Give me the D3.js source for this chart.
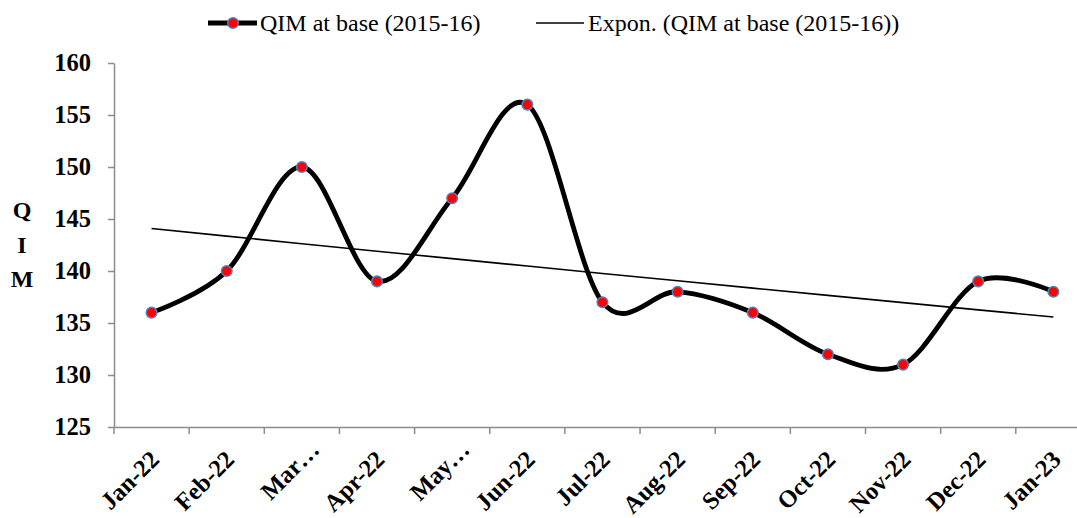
<!DOCTYPE html>
<html>
<head>
<meta charset="utf-8">
<script src="https://cdn.jsdelivr.net/npm/d3@7/dist/d3.min.js"></script>
<style>
  html, body { margin: 0; padding: 0; background: #fff; }
  svg { display: block; }
  text { font-family: "Liberation Serif", "Times New Roman", serif; fill: #000; }
</style>
</head>
<body>
<svg id="chart" width="1077" height="518"></svg>
<script>
// ---- data ----
const categories = ["Jan-22","Feb-22","Mar-22","Apr-22","May-22","Jun-22","Jul-22","Aug-22","Sep-22","Oct-22","Nov-22","Dec-22","Jan-23"];
const categoryLabels = ["Jan-22","Feb-22","Mar\u2026","Apr-22","May\u2026","Jun-22","Jul-22","Aug-22","Sep-22","Oct-22","Nov-22","Dec-22","Jan-23"];
const qimValues = [136, 140, 150, 139, 147, 156, 137, 138, 136, 132, 131, 139, 138];
const yTicks = [125, 130, 135, 140, 145, 150, 155, 160];
const seriesName = "QIM at base (2015-16)";
const trendName = "Expon. (QIM at base (2015-16))";
const yTitle = ["Q", "I", "M"];

// ---- layout ----
const svg = d3.select("#chart");
const plotLeft = 114, plotTop = 63, plotBottom = 427;
const step = 75.15;
const plotRight = plotLeft + step * categories.length;

const x = d3.scaleBand().domain(categories).range([plotLeft, plotRight]).padding(0);
const xc = c => x(c) + x.bandwidth() / 2;
const y = d3.scaleLinear().domain([125, 160]).range([plotBottom, plotTop]);

const axisColor = "#8c8c8c";
const serif = "'Liberation Serif', 'Times New Roman', serif";

// Y axis
const yAxis = svg.append("g")
  .attr("transform", `translate(${plotLeft},0)`)
  .call(d3.axisLeft(y).tickValues(yTicks).tickSize(6).tickSizeOuter(0).tickPadding(17));
yAxis.attr("font-family", serif);
yAxis.select(".domain").attr("stroke", axisColor).attr("stroke-width", 1.5);
yAxis.selectAll(".tick line").attr("stroke", axisColor).attr("stroke-width", 1.5);
yAxis.selectAll(".tick text")
  .attr("font-family", serif)
  .attr("font-size", 24.5).attr("font-weight", "bold").attr("fill", "#000");

// X axis (line + boundary ticks)
const xAxis = svg.append("g")
  .attr("transform", `translate(0,${plotBottom})`)
  .call(d3.axisBottom(x).tickSize(0).tickSizeOuter(0).tickFormat(""));
xAxis.select(".domain").attr("stroke", axisColor).attr("stroke-width", 1.5);
xAxis.selectAll(".tick").remove();
const boundaries = categories.map(c => x(c)).concat([plotRight]);
svg.append("g").selectAll("line").data(boundaries).join("line")
  .attr("x1", d => d).attr("x2", d => d)
  .attr("y1", plotBottom).attr("y2", plotBottom + 7)
  .attr("stroke", axisColor).attr("stroke-width", 1.5);

// X labels
svg.append("g").selectAll("text").data(categories).join("text")
  .attr("transform", c => `translate(${xc(c) + 9},${461}) rotate(-45)`)
  .attr("text-anchor", "end")
  .attr("dx", (c, i) => categoryLabels[i].endsWith("\u2026") ? 14 : 0)
  .attr("font-size", 24.5).attr("font-weight", "bold")
  .text((c, i) => categoryLabels[i]);

// Y title (stacked)
svg.append("g").selectAll("text").data(yTitle).join("text")
  .attr("x", 22).attr("y", (d, i) => 218 + i * 34.5)
  .attr("text-anchor", "middle")
  .attr("font-size", 24).attr("font-weight", "bold")
  .text(d => d);

// exponential trend (least squares on log values)
const n = qimValues.length;
const xs = d3.range(1, n + 1);
const lnY = qimValues.map(v => Math.log(v));
const mx = d3.mean(xs), my = d3.mean(lnY);
const b = d3.sum(xs, (xi, i) => (xi - mx) * (lnY[i] - my)) / d3.sum(xs, xi => (xi - mx) ** 2);
const a = my - b * mx;
const trendVals = xs.map(xi => Math.exp(a + b * xi));

svg.append("path")
  .datum(categories)
  .attr("fill", "none").attr("stroke", "#000").attr("stroke-width", 1.6)
  .attr("d", d3.line().x(c => xc(c)).y((c, i) => y(trendVals[i])));

// smoothed series line
svg.append("path")
  .datum(categories)
  .attr("fill", "none").attr("stroke", "#000").attr("stroke-width", 4.8)
  .attr("stroke-linejoin", "round")
  .attr("d", d3.line().curve(d3.curveCatmullRom.alpha(0)).x(c => xc(c)).y((c, i) => y(qimValues[i])));

// markers
svg.append("g").selectAll("circle").data(categories).join("circle")
  .attr("cx", c => xc(c)).attr("cy", (c, i) => y(qimValues[i]))
  .attr("r", 5.3).attr("fill", "#ff0000")
  .attr("stroke", "#4f81bd").attr("stroke-width", 1.5);

// legend
const lg = svg.append("g");
lg.append("line").attr("x1", 208).attr("x2", 257).attr("y1", 23).attr("y2", 23)
  .attr("stroke", "#000").attr("stroke-width", 4.8);
lg.append("circle").attr("cx", 233).attr("cy", 23).attr("r", 5.3)
  .attr("fill", "#ff0000").attr("stroke", "#4f81bd").attr("stroke-width", 1.5);
lg.append("text").attr("x", 260).attr("y", 31).attr("font-size", 24).text(seriesName);
lg.append("line").attr("x1", 536).attr("x2", 584).attr("y1", 23).attr("y2", 23)
  .attr("stroke", "#000").attr("stroke-width", 1.6);
lg.append("text").attr("x", 588).attr("y", 31).attr("font-size", 24).text(trendName);
</script>
</body>
</html>
